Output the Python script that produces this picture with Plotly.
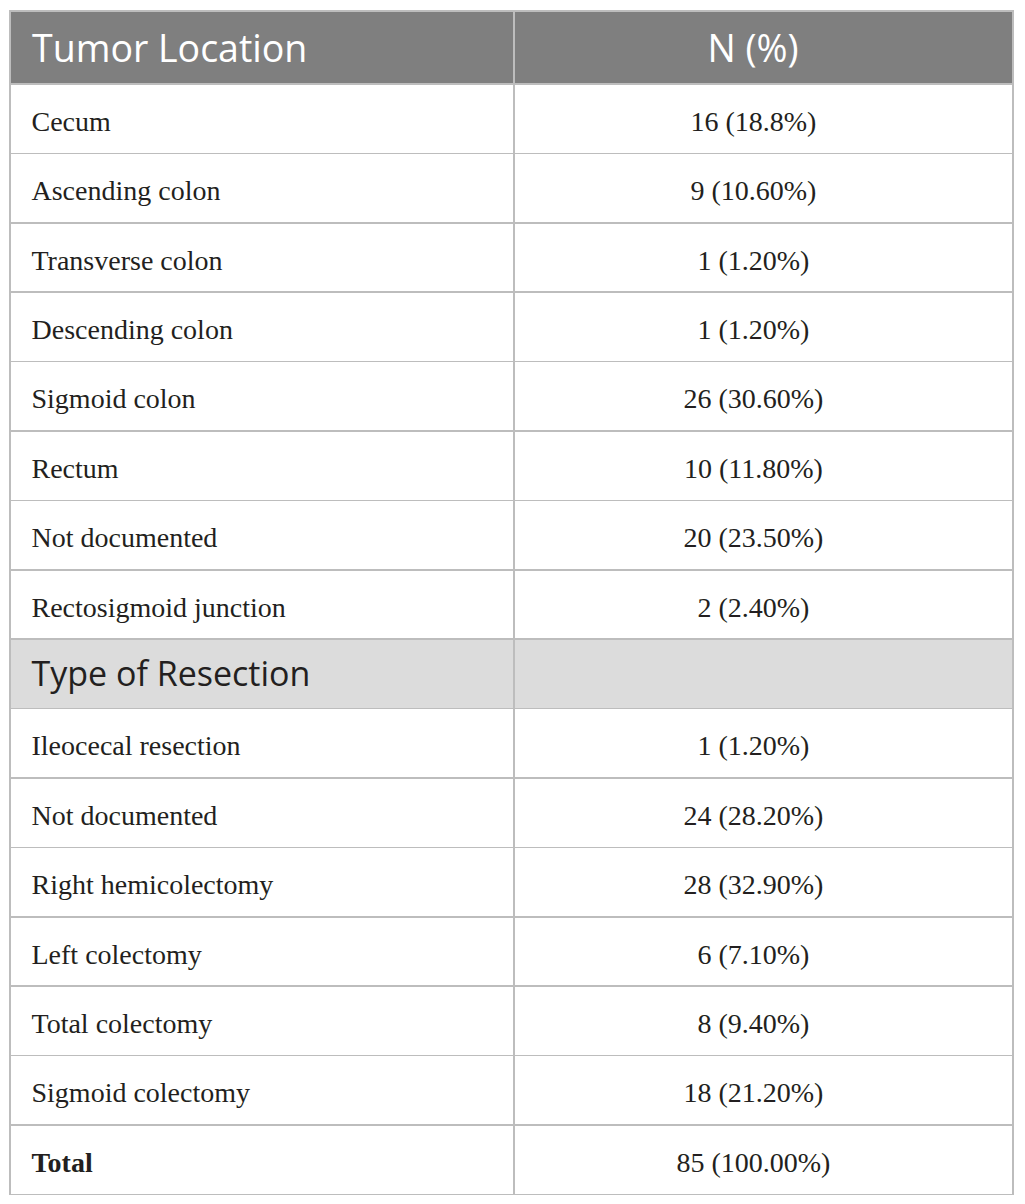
import plotly.graph_objects as go

# table content
header_labels = ["Tumor Location", "N (%)"]
locations = ["Cecum", "Ascending colon", "Transverse colon", "Descending colon",
             "Sigmoid colon", "Rectum", "Not documented", "Rectosigmoid junction"]
location_counts = ["16 (18.8%)", "9 (10.60%)", "1 (1.20%)", "1 (1.20%)",
                   "26 (30.60%)", "10 (11.80%)", "20 (23.50%)", "2 (2.40%)"]
section_label = "Type of Resection"
resections = ["Ileocecal resection", "Not documented", "Right hemicolectomy",
              "Left colectomy", "Total colectomy", "Sigmoid colectomy"]
resection_counts = ["1 (1.20%)", "24 (28.20%)", "28 (32.90%)", "6 (7.10%)",
                    "8 (9.40%)", "18 (21.20%)"]
total_label = "Total"
total_count = "85 (100.00%)"

serif = "Liberation Serif"
sans = "Open Sans"


def txt(s, size, family=None, left=True):
    # plotly puts text at the top of a cell; an invisible first line
    # pushes the real text down to the middle
    st = f"font-size:{size}px"
    if family:
        st += f";font-family:{family}"
    pad = "<span style='font-size:27px'>&nbsp;&nbsp;</span>"
    body = f"<span style='{st}'>{s}</span>"
    if left:
        body = pad + body
    else:
        body = body + "<span style='font-size:27px'>&nbsp;&nbsp;&nbsp;</span>"
    return "&nbsp;<br>" + body


sec_idx = len(locations)
col1 = ([txt(v, 28) for v in locations]
        + [txt(section_label, 34, sans)]
        + [txt(v, 28) for v in resections]
        + [txt("<b>" + total_label + "</b>", 28)])
col2 = ([txt(v, 28, left=False) for v in location_counts]
        + [""]
        + [txt(v, 28, left=False) for v in resection_counts]
        + [txt(total_count, 28, left=False)])

fills = ["#dcdcdc" if i == sec_idx else "white" for i in range(len(col1))]

head = [txt(header_labels[0], 37.5), txt(header_labels[1], 37.5, left=False)]

fig = go.Figure(go.Table(
    columnwidth=[504, 499],
    header=dict(
        values=head,
        fill_color="#7f7f7f",
        line_color="#bdbdbd",
        line_width=1.5,
        align=["left", "center"],
        font=dict(family=sans, size=18.2, color="white"),
        height=73,
    ),
    cells=dict(
        values=[col1, col2],
        fill_color=[fills, fills],
        line_color="#bdbdbd",
        line_width=1.5,
        align=["left", "center"],
        font=dict(family=serif, size=17.5, color="#231f20"),
        height=69.4,
    ),
))

fig.update_layout(
    width=1010,
    height=1196,
    margin=dict(l=2, r=5, t=3, b=0),
    paper_bgcolor="white",
)

fig.write_html("out.html")
